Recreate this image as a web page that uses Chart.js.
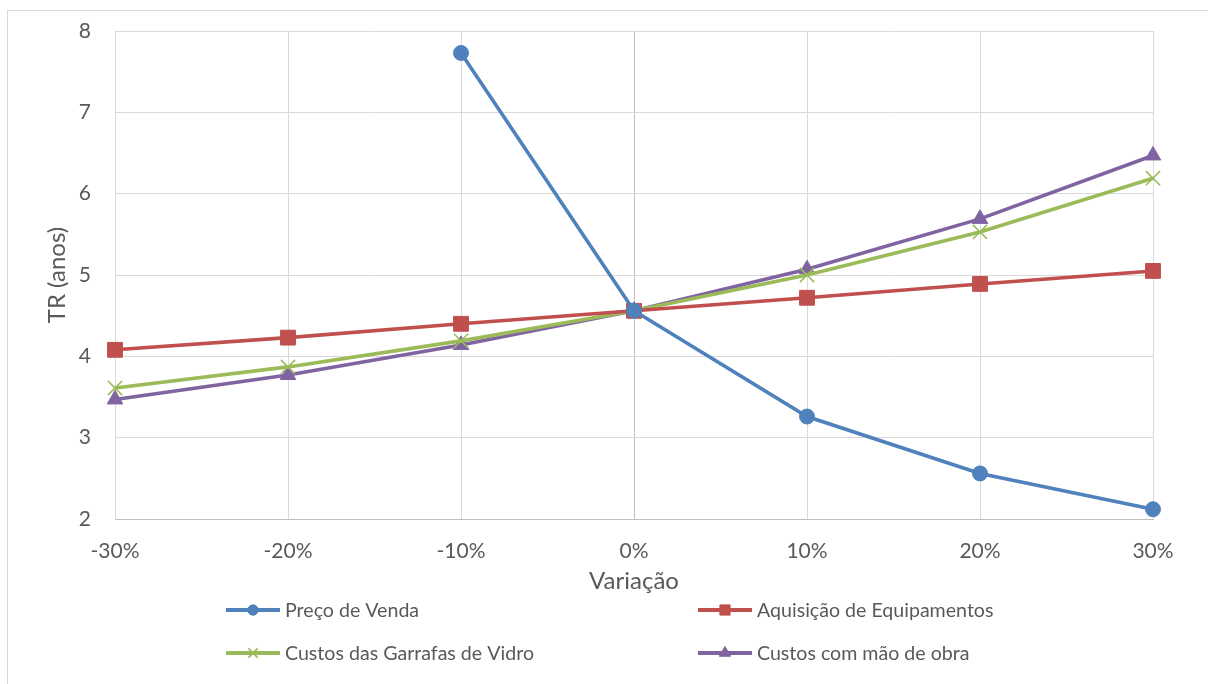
<!DOCTYPE html>
<html>
<head>
<meta charset="utf-8">
<title>TR (anos) – análise de sensibilidade</title>
<script src="https://cdn.jsdelivr.net/npm/chart.js@4/dist/chart.umd.min.js"></script>
<style>
  html, body { margin: 0; padding: 0; background: #ffffff; }
  #wrap { width: 1208px; height: 684px; position: relative; }
  canvas { display: block; }
</style>
</head>
<body>
<div id="wrap"><canvas id="chart" width="1208" height="684"></canvas></div>
<script>
// Categories (variation applied to each parameter)
const variacoes = ['-30%', '-20%', '-10%', '0%', '10%', '20%', '30%'];

// Payback time (years) for each sensitivity series
const precoDeVenda      = [null, null, 7.73, 4.56, 3.26, 2.56, 2.12];
const aquisicaoEquip    = [4.08, 4.23, 4.40, 4.56, 4.72, 4.89, 5.05];
const custosGarrafas    = [3.61, 3.87, 4.19, 4.56, 5.00, 5.53, 6.19];
const custosMaoDeObra   = [3.47, 3.77, 4.14, 4.56, 5.07, 5.69, 6.47];

const nomesSeries = [
  'Preço de Venda',
  'Aquisição de Equipamentos',
  'Custos das Garrafas de Vidro',
  'Custos com mão de obra'
];

// Value axis range
const yMin = 2, yMax = 8, yStep = 1;

const FONT = 'Lato, "Open Sans", "DejaVu Sans", sans-serif';
const TEXT = '#595959';
const GRID = '#d9d9d9';
const AXIS = '#bfbfbf';

const cores = ['#4f81bd', '#c0504d', '#9bbb59', '#8064a2'];

function serie(label, data, color, style, radius, extra) {
  return Object.assign({
    label: label,
    data: data,
    borderColor: color,
    backgroundColor: color,
    borderWidth: 3.6,
    pointStyle: style,
    pointRadius: radius,
    pointHoverRadius: radius,
    pointBackgroundColor: color,
    pointBorderColor: color,
    pointBorderWidth: 1,
    tension: 0,
    spanGaps: false,
    fill: false
  }, extra || {});
}

const datasets = [
  serie(nomesSeries[0], precoDeVenda, cores[0], 'circle', 7.5),
  serie(nomesSeries[1], aquisicaoEquip, cores[1], 'rect', 10.5),
  serie(nomesSeries[2], custosGarrafas, cores[2], 'crossRot', 10, { pointBorderWidth: 1.6 }),
  serie(nomesSeries[3], custosMaoDeObra, cores[3], 'triangle', 9)
];

// Light frame around the whole chart object
const framePlugin = {
  id: 'frame',
  beforeDraw(chart) {
    const ctx = chart.ctx;
    ctx.save();
    ctx.fillStyle = '#ffffff';
    ctx.fillRect(0, 0, chart.width, chart.height);
    ctx.strokeStyle = GRID;
    ctx.lineWidth = 1;
    ctx.strokeRect(7.5, 10.5, chart.width + 20, chart.height + 20);
    ctx.restore();
  }
};

// Two-column legend below the axis title
const legendCols = [226, 698];
const legendRows = [610, 653];
const legendMarker = { circle: 5.2, rect: 7.2, crossRot: 6.5, triangle: 6.5 };

const legendPlugin = {
  id: 'twoColumnLegend',
  afterDraw(chart) {
    const ctx = chart.ctx;
    chart.data.datasets.forEach((ds, i) => {
      const x0 = legendCols[i % 2];
      const y = legendRows[Math.floor(i / 2)];
      ctx.save();
      ctx.strokeStyle = ds.borderColor;
      ctx.lineWidth = 4;
      ctx.lineCap = 'butt';
      ctx.beginPath();
      ctx.moveTo(x0, y);
      ctx.lineTo(x0 + 54, y);
      ctx.stroke();

      ctx.fillStyle = ds.pointBackgroundColor;
      ctx.strokeStyle = ds.pointBorderColor;
      ctx.lineWidth = ds.pointStyle === 'crossRot' ? 1.6 : 1;
      Chart.helpers.drawPoint(ctx, {
        pointStyle: ds.pointStyle,
        radius: legendMarker[ds.pointStyle],
        rotation: 0,
        borderWidth: ctx.lineWidth
      }, x0 + 27, y);

      ctx.fillStyle = TEXT;
      ctx.font = '19.6px ' + FONT;
      ctx.textAlign = 'left';
      ctx.textBaseline = 'middle';
      ctx.fillText(ds.label, x0 + 59, y + 1);
      ctx.restore();
    });
  }
};

new Chart(document.getElementById('chart'), {
  type: 'line',
  data: { labels: variacoes, datasets: datasets },
  plugins: [framePlugin, legendPlugin],
  options: {
    responsive: false,
    animation: false,
    events: [],
    layout: { padding: { left: 0, right: 55, top: 31, bottom: 88 } },
    plugins: {
      legend: { display: false },
      tooltip: { enabled: false },
      title: { display: false }
    },
    scales: {
      x: {
        type: 'category',
        offset: false,
        afterFit(scale) { scale.height = 77; },
        grid: {
          drawTicks: false,
          lineWidth: 1,
          color: (c) => (c.tick && c.tick.label === '0%') ? AXIS : GRID
        },
        border: { display: true, color: AXIS, width: 1 },
        ticks: {
          color: TEXT,
          font: { family: FONT, size: 21 },
          padding: 20,
          maxRotation: 0,
          autoSkip: false
        },
        title: {
          display: true,
          text: 'Variação',
          color: TEXT,
          font: { family: FONT, size: 24 },
          padding: { top: 0, bottom: 0 }
        }
      },
      y: {
        min: yMin,
        max: yMax,
        afterFit(scale) { scale.width = 115; },
        grid: {
          drawTicks: true,
          tickLength: 16,
          tickColor: 'rgba(0,0,0,0)',
          color: GRID,
          lineWidth: 1
        },
        border: { display: false },
        ticks: {
          stepSize: yStep,
          color: TEXT,
          font: { family: FONT, size: 21 },
          padding: 8
        },
        title: {
          display: true,
          text: 'TR (anos)',
          color: TEXT,
          font: { family: FONT, size: 24 },
          padding: { top: 43, bottom: 0 }
        }
      }
    }
  }
});
</script>
</body>
</html>
